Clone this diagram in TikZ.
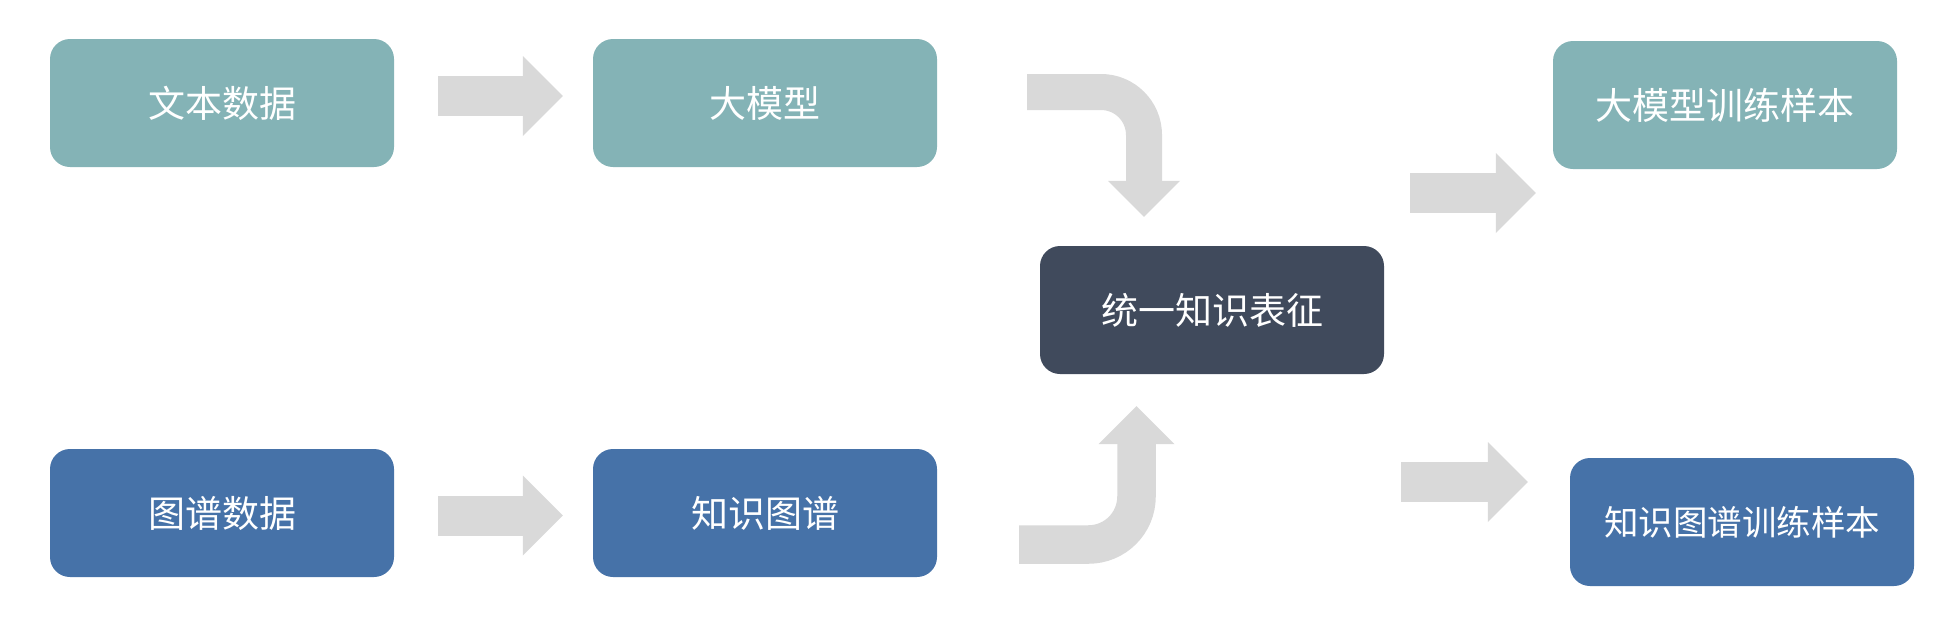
\documentclass[tikz,border=0pt]{standalone}
\usepackage{fontspec}
\setmainfont{Noto Sans CJK SC}
\usetikzlibrary{calc,arrows.meta}
\definecolor{boxteal}{HTML}{84B3B6}
\definecolor{boxblue}{HTML}{4672A8}
\definecolor{boxdark}{HTML}{404A5C}
\definecolor{arrowgrey}{HTML}{D9D9D9}
\tikzset{
	box/.style={rounded corners=20pt, minimum width=344pt, minimum height=128pt, inner sep=0pt, text=white, font=\fontsize{37}{44}\selectfont},
	tealbox/.style={box, fill=boxteal},
	bluebox/.style={box, fill=boxblue},
	darkbox/.style={box, fill=boxdark},
	blockarrow/.style={draw=arrowgrey, line width=40pt, -{Triangle[width=80pt, length=40pt, line width=0pt]}},
	bentarrow/.style={draw=arrowgrey, line width=36pt, rounded corners=43pt, -{Triangle[width=72pt, length=36pt, line width=0pt]}}
}

\begin{document}
\begin{tikzpicture}[x=1pt, y=-1pt]
			%%%%% START %%%%%
			\useasboundingbox (0, 0) rectangle (1953, 630);
			
			\node[tealbox] (txtdata) at (222, 103) {文本数据};
			\node[tealbox] (llm) at (765, 103) {大模型};
			\node[tealbox] (llmsample) at (1725, 105) {大模型训练样本};
			
			\node[darkbox] (unified) at (1212, 310) {统一知识表征};
			
			\node[bluebox] (kgdata) at (222, 513) {图谱数据};
			\node[bluebox] (kg) at (765, 513) {知识图谱};
			\node[bluebox, font=\fontsize{34.5}{41}\selectfont] (kgsample) at (1742, 522) {知识图谱训练样本};
			
			\draw[blockarrow] ($(txtdata.east)+(44, -7)$) -- ($(llm.west)+(-30, -7)$);
			\draw[blockarrow] ($(kgdata.east)+(44, 2.5)$) -- ($(kg.west)+(-30, 2.5)$);
			
			\draw[bentarrow] ($(llm.east)+(90, -11)$) -| ($(unified.north)+(-68, -29)$);
			\draw[bentarrow, line width=38.5pt, rounded corners=48pt, -{Triangle[width=76pt, length=38pt, line width=0pt]}] ($(kg.east)+(82, 31.5)$) -| ($(unified.south)+(-75.5, 32)$);
			
			\draw[blockarrow] ($(unified.east)+(26, -117)$) -- ($(llmsample.west)+(-17, 88)$);
			\draw[blockarrow] ($(unified.east)+(17, 172)$) -- ($(kgsample.west)+(-42, -40)$);
			
			%%%%% END %%%%%
\end{tikzpicture}
\end{document}
